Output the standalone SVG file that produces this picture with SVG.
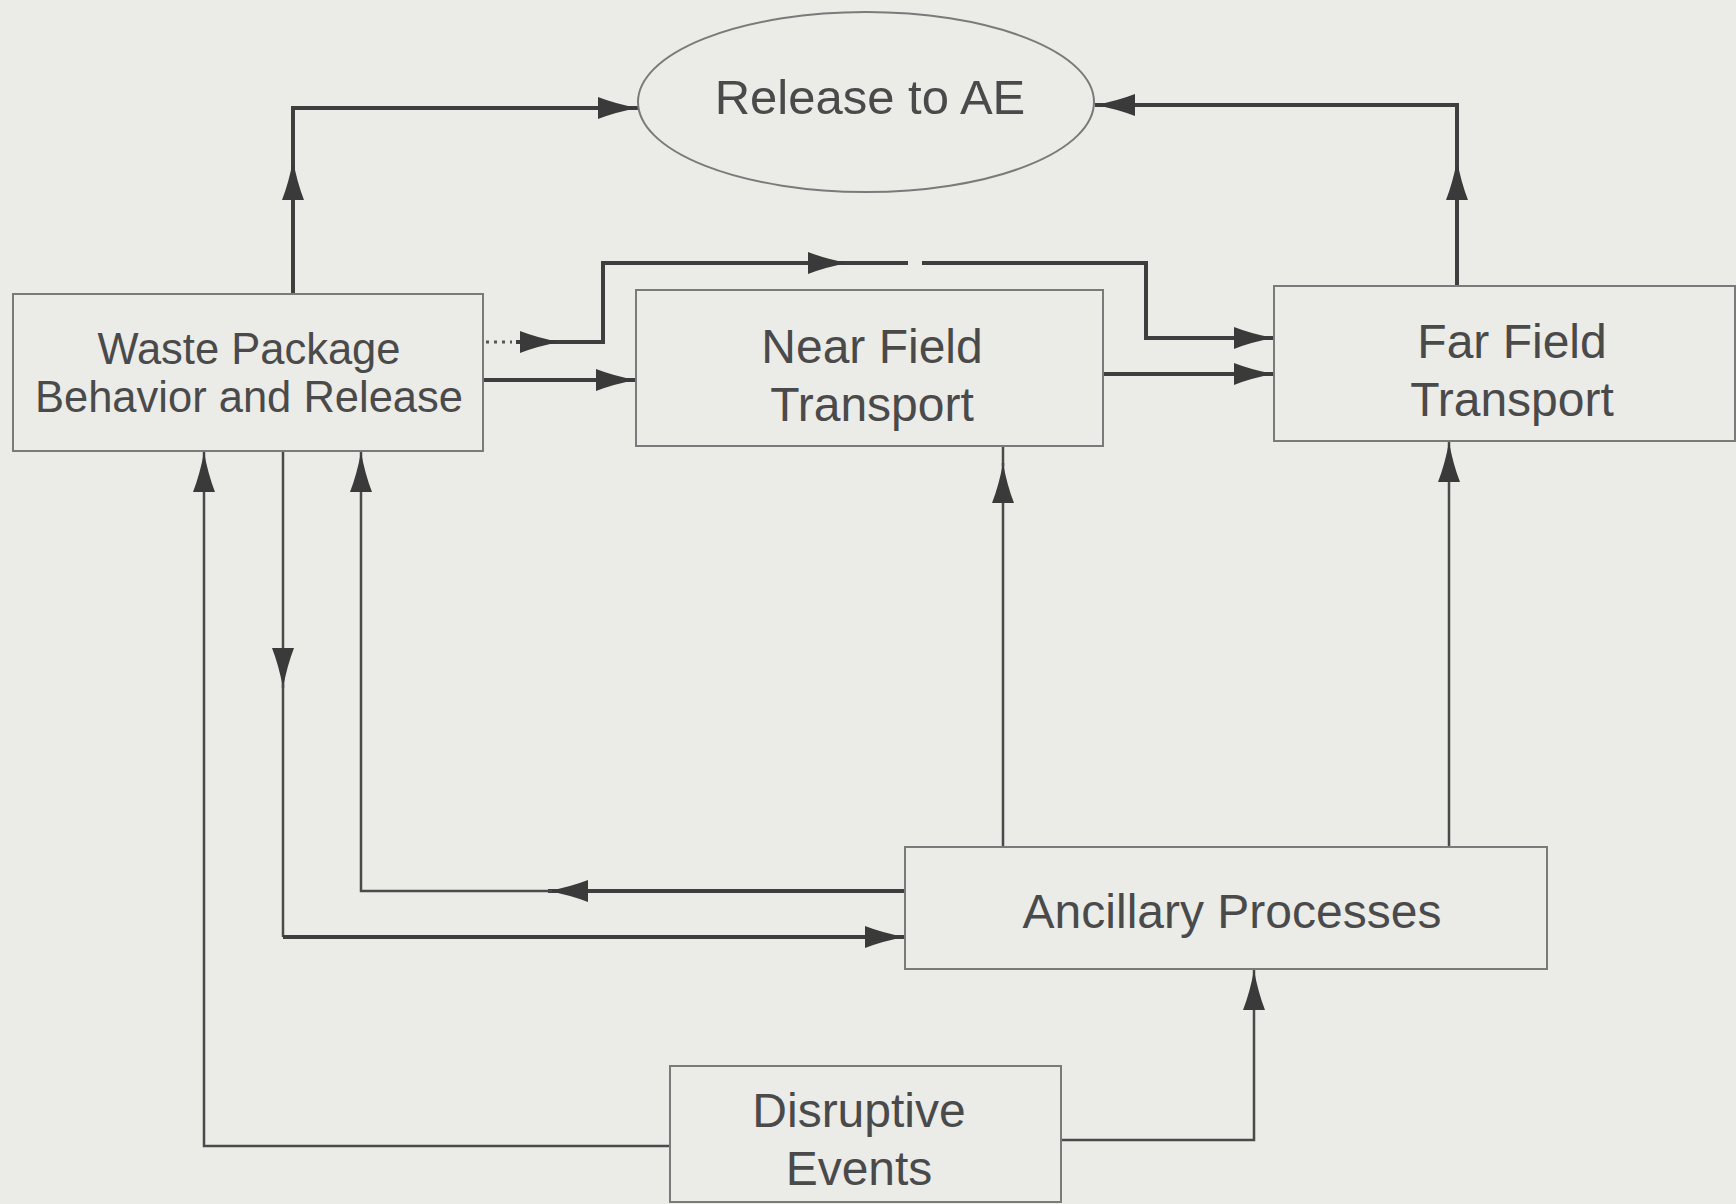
<svg xmlns="http://www.w3.org/2000/svg" width="1736" height="1204" viewBox="0 0 1736 1204">
<defs>
<marker id="ah" markerUnits="userSpaceOnUse" markerWidth="40" markerHeight="22" refX="40" refY="11" orient="auto">
<path d="M0,0 Q18,7 40,11 Q18,15 0,22 z" fill="#3a3a3a"/>
</marker>
<style>
.bg{fill:#ebebe8}
.box{fill:none;stroke:#7a7a7a;stroke-width:2}
.t{font-family:"Liberation Sans",Arial,sans-serif;font-size:48px;fill:#4a4a4a;text-anchor:middle}
.ts{font-size:43.5px}
.tl{font-size:49px}
.c{fill:none;stroke:#3e3e3e;stroke-width:4;stroke-linejoin:miter}
.c2{fill:none;stroke:#4a4a4a;stroke-width:2.5}
.a{marker-end:url(#ah)}
.dot{fill:none;stroke:#555;stroke-width:3;stroke-dasharray:3 5}
</style>
</defs>
<rect class="bg" x="0" y="0" width="1736" height="1204"/>

<g id="connectors">
<path class="c a" d="M293,294 V160"/>
<path class="c a" d="M293,166 V108 H638"/>
<path class="c a" d="M1457,286 V160"/>
<path class="c a" d="M1457,166 V105 H1095"/>
<path class="dot" d="M486,342 H512"/>
<path class="c a" d="M516,342 H560"/>
<path class="c a" d="M556,342 H603 V263 H848"/>
<path class="c a" d="M844,263 H908 M922,263 H1146 V338 H1274"/>
<path class="c a" d="M483,380 H636"/>
<path class="c a" d="M1103,374 H1274"/>
<path class="c2 a" d="M1003,847 V463"/>
<path class="c2" d="M1003,466 V446"/>
<path class="c2 a" d="M1449,847 V442"/>
<path class="c a" d="M905,891 H548"/>
<path class="c2 a" d="M552,891 H361 V452"/>
<path class="c2 a" d="M283,451 V688"/>
<path class="c2" d="M283,684 V937"/>
<path class="c a" d="M283,937 H905"/>
<path class="c2 a" d="M670,1146 H204 V452"/>
<path class="c2 a" d="M1061,1140 H1254 V970"/>
</g>

<g id="release">
<ellipse class="box" cx="866" cy="102" rx="228" ry="90" stroke-width="1.5"/>
<text class="t tl" x="870" y="114">Release to AE</text>
</g>
<g id="waste">
<rect class="box" x="13" y="294" width="470" height="157"/>
<text class="t ts" x="249" y="364">Waste Package</text>
<text class="t ts" x="249" y="412">Behavior and Release</text>
</g>
<g id="near">
<rect class="box" x="636" y="290" width="467" height="156"/>
<text class="t" x="872" y="363">Near Field</text>
<text class="t" x="872" y="421">Transport</text>
</g>
<g id="far">
<rect class="box" x="1274" y="286" width="461" height="155"/>
<text class="t" x="1512" y="358">Far Field</text>
<text class="t" x="1512" y="416">Transport</text>
</g>
<g id="ancillary">
<rect class="box" x="905" y="847" width="642" height="122"/>
<text class="t" x="1232" y="928">Ancillary Processes</text>
</g>
<g id="disruptive">
<rect class="box" x="670" y="1066" width="391" height="136"/>
<text class="t" x="859" y="1127">Disruptive</text>
<text class="t" x="859" y="1185">Events</text>
</g>
</svg>
